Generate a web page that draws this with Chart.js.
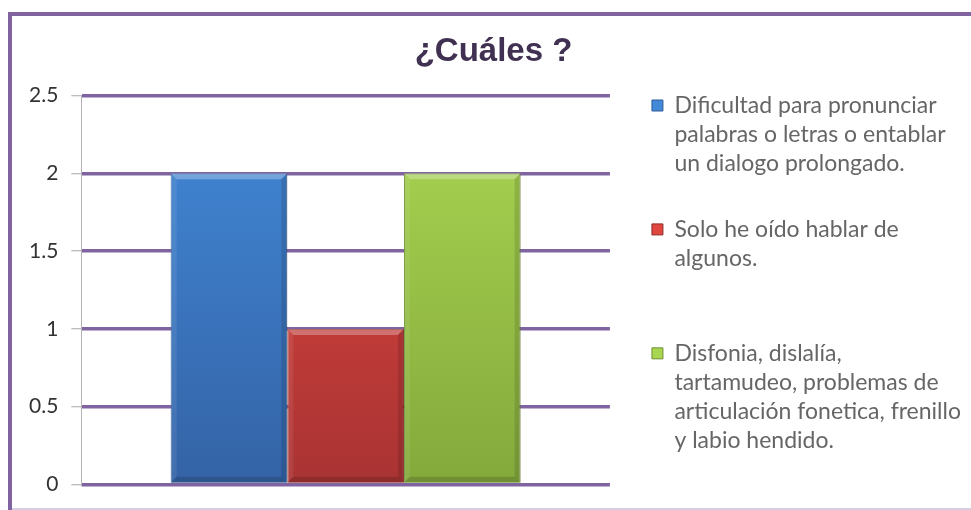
<!DOCTYPE html>
<html lang="es">
<head>
<meta charset="UTF-8">
<title>¿Cuáles ?</title>
<script src="https://cdn.jsdelivr.net/npm/chart.js@4.4.1/dist/chart.umd.min.js"></script>
<style>
  html, body { margin: 0; padding: 0; background: #fff; }
  #wrap { position: relative; width: 971px; height: 510px; }
</style>
</head>
<body>
<div id="wrap"><canvas id="chart"></canvas></div>
<script>
const categories = [''];
const seriesNames = [
  ['Dificultad para pronunciar', 'palabras o letras o entablar', 'un dialogo prolongado.', ''],
  ['Solo he oído hablar de', 'algunos.', '', ''],
  ['Disfonia, dislalía,', 'tartamudeo, problemas de', 'articulación fonetica, frenillo', 'y labio hendido.']
];
const seriesValues = [[2], [1], [2]];
const seriesColors = [
  ['#4289d8', '#3463a6', '#2f5c97'],
  ['#e0483f', '#a93333', '#8e2b2b'],
  ['#a9d651', '#84a93c', '#6f8f32']
];
const yTickLabels = ['0', '0.5', '1', '1.5', '2', '2.5'];
const yMin = 0, yMax = 2.5, yStep = 0.5;

const purple = '#8064a2';

function barFill(i) {
  return function (ctx) {
    const area = ctx.chart.chartArea;
    if (!area) return seriesColors[i][1];
    const g = ctx.chart.ctx.createLinearGradient(0, area.top, 0, area.bottom);
    g.addColorStop(0, seriesColors[i][0]);
    g.addColorStop(1, seriesColors[i][1]);
    return g;
  };
}

// purple frame round the chart
const frame = {
  id: 'frame',
  beforeDraw(chart) {
    const c = chart.ctx;
    c.save();
    c.fillStyle = purple;
    c.fillRect(8, 12, chart.width - 8, 4);
    c.fillRect(8, 12, 4, chart.height - 12);
    c.fillStyle = '#d4cde3';
    c.fillRect(12, chart.height - 2, chart.width - 12, 2);
    c.restore();
  }
};

// soft bevel on the bars, like the office style
const bevel = {
  id: 'bevel',
  afterDatasetsDraw(chart) {
    const c = chart.ctx;
    const b = 6;
    chart.data.datasets.forEach((ds, di) => {
      chart.getDatasetMeta(di).data.forEach(bar => {
        const l = bar.x - bar.width / 2, r = bar.x + bar.width / 2;
        const t = bar.y, btm = bar.base;
        c.save();
        c.fillStyle = 'rgba(255,255,255,0.28)';
        c.beginPath();
        c.moveTo(l, t); c.lineTo(r, t); c.lineTo(r - b, t + b); c.lineTo(l + b, t + b);
        c.closePath(); c.fill();
        c.fillStyle = 'rgba(255,255,255,0.08)';
        c.beginPath();
        c.moveTo(l, t); c.lineTo(l + b, t + b); c.lineTo(l + b, btm - b); c.lineTo(l, btm);
        c.closePath(); c.fill();
        c.fillStyle = 'rgba(0,0,0,0.12)';
        c.beginPath();
        c.moveTo(r, t); c.lineTo(r - b, t + b); c.lineTo(r - b, btm - b); c.lineTo(r, btm);
        c.closePath(); c.fill();
        c.fillStyle = 'rgba(0,0,0,0.15)';
        c.beginPath();
        c.moveTo(l, btm); c.lineTo(l + b, btm - b); c.lineTo(r - b, btm - b); c.lineTo(r, btm);
        c.closePath(); c.fill();
        c.restore();
      });
    });
  }
};

new Chart(document.getElementById('chart'), {
  type: 'bar',
  data: {
    labels: categories,
    datasets: seriesValues.map((v, i) => ({
      label: seriesNames[i].join(' ').trim(),
      data: v,
      backgroundColor: barFill(i),
      borderColor: seriesColors[i][2],
      borderWidth: 1,
      categoryPercentage: 0.662,
      barPercentage: 1
    }))
  },
  options: {
    responsive: true,
    maintainAspectRatio: false,
    animation: false,
    layout: { padding: { left: 16, right: 0, top: 14, bottom: 11 } },
    plugins: {
      title: {
        display: true,
        text: '¿Cuáles ?',
        color: '#403152',
        font: { family: 'Liberation Sans', size: 33, weight: 'bold' },
        padding: { top: 18, bottom: 24 }
      },
      legend: {
        position: 'right',
        align: 'start',
        maxWidth: 400,
        title: { display: true, text: '', font: { size: 10, lineHeight: 1 }, padding: { top: 62, bottom: 0 } },
        labels: {
          color: '#1f1f1f',
          font: { family: 'Lato', size: 23, lineHeight: 1.26 },
          boxWidth: 11,
          boxHeight: 11,
          padding: 8,
          generateLabels: () => seriesNames.map((lines, i) => ({
            text: lines,
            fillStyle: seriesColors[i][0],
            strokeStyle: seriesColors[i][2],
            lineWidth: 1,
            datasetIndex: i
          }))
        }
      },
      tooltip: { enabled: false }
    },
    scales: {
      x: { display: false },
      y: {
        min: yMin,
        max: yMax,
        ticks: {
          stepSize: yStep,
          color: '#333333',
          padding: 13,
          font: { family: 'Lato', size: 21 },
          callback: (v, i) => yTickLabels[i]
        },
        grid: {
          color: purple,
          lineWidth: 3.5,
          tickColor: '#a6a6a6',
          tickWidth: 1,
          tickLength: 10
        },
        border: { display: true, color: '#b3b3b3', width: 1 }
      },
      gap: {
        position: 'right',
        display: true,
        grid: { display: false },
        ticks: { display: false },
        border: { display: false },
        afterFit: (scale) => { scale.width = 34; }
      }
    }
  },
  plugins: [frame, bevel]
});
</script>
</body>
</html>
